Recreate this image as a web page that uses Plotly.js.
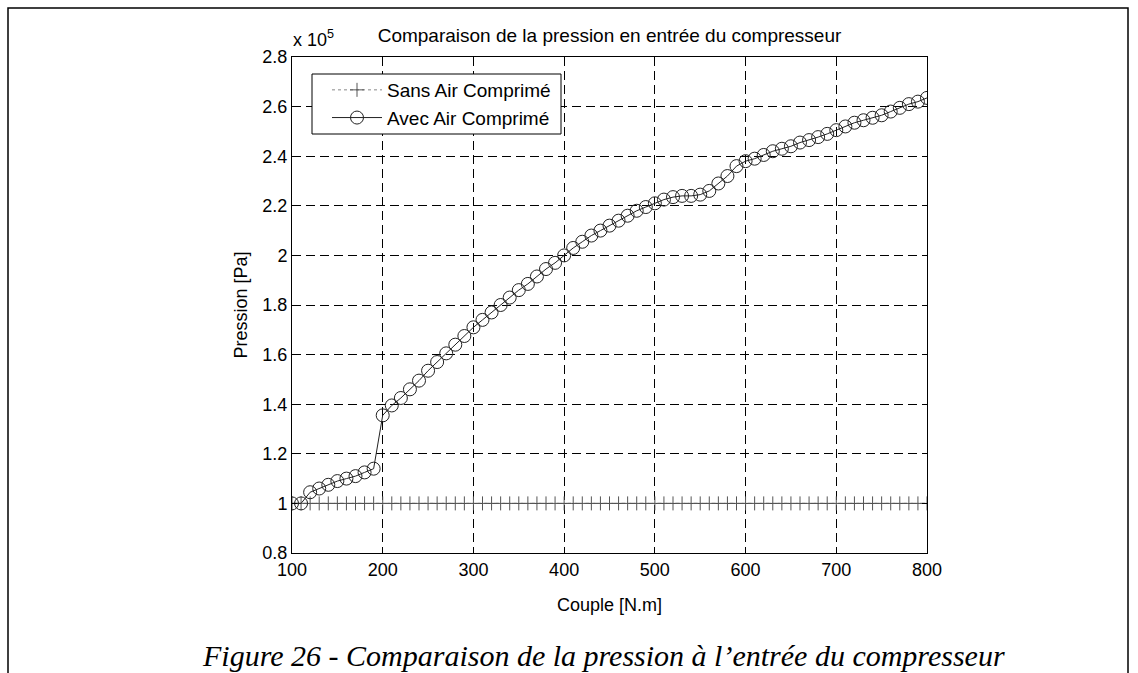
<!DOCTYPE html>
<html>
<head>
<meta charset="utf-8">
<script src="https://cdn.plot.ly/plotly-3.0.1.min.js"></script>
<style>
html,body{margin:0;padding:0;background:#fff;}
#chart{width:1138px;height:673px;}
</style>
</head>
<body>
<div id="chart"></div>
<script>
// Couple [N.m]
const couple = [100,110,120,130,140,150,160,170,180,190,
  200,210,220,230,240,250,260,270,280,290,
  300,310,320,330,340,350,360,370,380,390,
  400,410,420,430,440,450,460,470,480,490,
  500,510,520,530,540,550,560,570,580,590,
  600,610,620,630,640,650,660,670,680,690,
  700,710,720,730,740,750,760,770,780,790,800];
// Pression (x 10^5 Pa) - Sans Air Comprimé
const sansAir = [1,1,1,1,1,1,1,1,1,1,
  1,1,1,1,1,1,1,1,1,1,
  1,1,1,1,1,1,1,1,1,1,
  1,1,1,1,1,1,1,1,1,1,
  1,1,1,1,1,1,1,1,1,1,
  1,1,1,1,1,1,1,1,1,1,
  1,1,1,1,1,1,1,1,1,1,1];
// Pression (x 10^5 Pa) - Avec Air Comprimé
const avecAir = [1.0,1.0,1.045,1.06,1.075,1.09,1.10,1.11,1.125,1.14,
  1.355,1.395,1.425,1.46,1.495,1.535,1.57,1.605,1.64,1.675,
  1.71,1.74,1.77,1.80,1.83,1.86,1.885,1.915,1.945,1.97,
  2.0,2.03,2.055,2.08,2.10,2.12,2.14,2.16,2.18,2.195,
  2.21,2.225,2.235,2.24,2.24,2.245,2.26,2.29,2.32,2.36,
  2.38,2.39,2.405,2.42,2.43,2.44,2.455,2.465,2.477,2.49,
  2.505,2.52,2.535,2.545,2.555,2.565,2.58,2.595,2.61,2.62,2.635];

const seriesNames = ['Sans Air Comprimé','Avec Air Comprimé'];
const chartTitle = 'Comparaison de la pression en entrée du compresseur';
const xTitle = 'Couple [N.m]';
const yTitle = 'Pression [Pa]';
const caption = 'Figure 26 - Comparaison de la pression à l’entrée du compresseur';

const FONT = 'Liberation Sans, Arial, sans-serif';
const W = 1138, H = 673;
const L = 292, R = 927, T = 57, B = 553;
const px = X => (X - L) / (R - L);
const py = Y => (B - Y) / (B - T);

const traces = [
  {
    x: couple, y: sansAir, name: seriesNames[0], type: 'scatter', mode: 'lines+markers',
    line: {color: '#888', width: 1, dash: 'dot'},
    marker: {symbol: 'cross-thin-open', size: 10, color: '#555', line: {color: '#555', width: 1}}
  },
  {
    x: couple, y: avecAir, name: seriesNames[1], type: 'scatter', mode: 'lines+markers',
    line: {color: '#222', width: 1},
    marker: {symbol: 'circle-open', size: 13, color: '#222', line: {color: '#222', width: 1}}
  }
];

const axisCommon = {
  showline: true, linecolor: '#000', linewidth: 1, mirror: 'ticks',
  ticks: 'inside', ticklen: 5, tickcolor: '#000', tickwidth: 1,
  showgrid: true, gridcolor: '#000', gridwidth: 1, griddash: '9px,5px',
  zeroline: false, tickfont: {family: FONT, size: 18, color: '#000'}
};

const layout = {
  width: W, height: H,
  margin: {l: L, r: W - R, t: T, b: H - B, pad: 0},
  paper_bgcolor: '#fff', plot_bgcolor: '#fff',
  showlegend: true,
  title: {text: chartTitle, font: {family: FONT, size: 19, color: '#000'},
          xref: 'paper', x: 0.5, xanchor: 'center', yref: 'container', y: 1 - 35 / H, yanchor: 'middle'},
  xaxis: Object.assign({}, axisCommon, {
    range: [100, 800], tick0: 100, dtick: 100,
    title: {text: xTitle, font: {family: FONT, size: 18, color: '#000'}, standoff: 19}
  }),
  yaxis: Object.assign({}, axisCommon, {
    range: [0.8, 2.8], tick0: 0.8, dtick: 0.2,
    title: {text: yTitle, font: {family: FONT, size: 18, color: '#000'}, standoff: 10}
  }),
  legend: {
    x: px(327), y: py(71), xanchor: 'left', yanchor: 'top',
    bgcolor: 'rgba(0,0,0,0)', borderwidth: 0, itemwidth: 50,
    font: {family: FONT, size: 19, color: '#000'}, tracegroupgap: 0
  },
  annotations: [
    {text: 'x 10<sup>5</sup>', xref: 'paper', yref: 'paper', x: px(291), y: py(39),
     xanchor: 'left', yanchor: 'middle', showarrow: false,
     font: {family: FONT, size: 18, color: '#000'}},
    {text: caption, xref: 'paper', yref: 'paper', x: px(603), y: py(655),
     xanchor: 'center', yanchor: 'middle', showarrow: false,
     font: {family: 'Liberation Serif, Times New Roman, serif', size: 30, color: '#000', style: 'italic'}}
  ],
  shapes: [
    {type: 'rect', xref: 'paper', yref: 'paper', x0: px(312), x1: px(561), y0: py(74), y1: py(134),
     line: {color: '#000', width: 1}, fillcolor: '#fff', layer: 'above'},
    {type: 'rect', xref: 'paper', yref: 'paper', x0: px(8), x1: px(1128), y0: py(8), y1: py(690),
     line: {color: '#000', width: 1.5}, fillcolor: 'rgba(0,0,0,0)', layer: 'above'}
  ]
};

Plotly.newPlot('chart', traces, layout, {displayModeBar: false, staticPlot: true});
</script>
</body>
</html>
